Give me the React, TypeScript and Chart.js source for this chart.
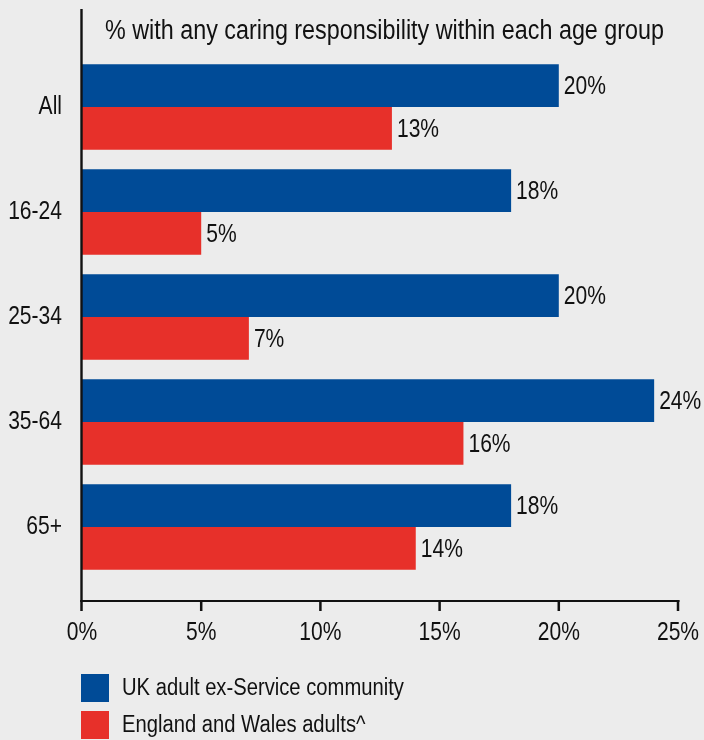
import React, { useEffect, useRef } from "react";
import { Chart, registerables } from "chart.js";

Chart.register(...registerables);

const categories = ["All", "16-24", "25-34", "35-64", "65+"];
const exServiceValues = [20, 18, 20, 24, 18];
const englandWalesValues = [13, 5, 7, 16, 14];
const xTickValues = [0, 5, 10, 15, 20, 25];
const seriesLabels = ["UK adult ex-Service community", "England and Wales adults^"];
const seriesColors = ["#004b97", "#e7302a"];
const titleText = "% with any caring responsibility within each age group";

const FONT = '"Liberation Sans", Arial, sans-serif';
const BG = "#ececec";
const SX = 0.81; // horizontal condensing of text
const INK = "#111";

function drawText(ctx: any, text: string, x: number, y: number, align: string, size: number, sx: number = SX) {
  ctx.save();
  ctx.font = `${size}px ${FONT}`;
  ctx.fillStyle = INK;
  ctx.textBaseline = "middle";
  ctx.textAlign = align;
  ctx.translate(x, y);
  ctx.scale(sx, 1);
  ctx.fillText(text, 0, 0);
  ctx.restore();
}

function textWidth(ctx: any, text: string, size: number) {
  ctx.save();
  ctx.font = `${size}px ${FONT}`;
  const w = ctx.measureText(text).width;
  ctx.restore();
  return w;
}

const decorPlugin = {
  id: "decor",
  afterDraw(chart: any) {
    const ctx = chart.ctx;
    const xs = chart.scales.x;
    const ys = chart.scales.y;
    const area = chart.chartArea;
    const x0 = xs.getPixelForValue(0);
    const axisY = 601;
    ctx.save();
    // y axis line
    ctx.strokeStyle = INK;
    ctx.lineWidth = 2.4;
    ctx.beginPath();
    ctx.moveTo(x0 - 0.5, 9);
    ctx.lineTo(x0 - 0.5, axisY + 1);
    ctx.stroke();
    // x axis line
    ctx.lineWidth = 2;
    ctx.beginPath();
    ctx.moveTo(x0 - 1.5, axisY);
    ctx.lineTo(xs.getPixelForValue(xTickValues[xTickValues.length - 1]) + 1.5, axisY);
    ctx.stroke();
    // ticks + tick labels
    ctx.lineWidth = 2.5;
    xTickValues.forEach((v) => {
      const px = xs.getPixelForValue(v) - (v === 0 ? 0.5 : 0);
      ctx.beginPath();
      ctx.moveTo(px, axisY - 1);
      ctx.lineTo(px, 611);
      ctx.stroke();
      drawText(ctx, v + "%", xs.getPixelForValue(v), 633, "center", 26);
    });
    // category labels
    categories.forEach((c, i) => {
      drawText(ctx, c, x0 - 20, ys.getPixelForValue(i), "right", 26);
    });
    // title (spans the plot width, as in the source)
    const titleLeft = area.left + 23;
    const titleRight = area.right - 14;
    const tsx = (titleRight - titleLeft) / textWidth(ctx, titleText, 27);
    drawText(ctx, titleText, titleLeft, 31.5, "left", 27, tsx);
    // data labels
    chart.data.datasets.forEach((ds: any, di: number) => {
      const meta = chart.getDatasetMeta(di);
      meta.data.forEach((el: any, i: number) => {
        drawText(ctx, ds.data[i] + "%", el.x + 5, el.y + 1.5, "left", 26);
      });
    });
    // legend
    chart.data.datasets.forEach((ds: any, di: number) => {
      const top = 674 + di * 37;
      ctx.fillStyle = ds.backgroundColor;
      ctx.fillRect(area.left - 1, top, 28, 28);
      drawText(ctx, ds.label, area.left + 40, top + 14.5, "left", 23.5, 0.86);
    });
    ctx.restore();
  },
};

export default function App() {
  const ref = useRef<HTMLCanvasElement | null>(null);
  useEffect(() => {
    if (!ref.current) return;
    const chart = new Chart(ref.current, {
      type: "bar",
      data: {
        labels: categories,
        datasets: [
          { label: seriesLabels[0], data: exServiceValues, backgroundColor: seriesColors[0] },
          { label: seriesLabels[1], data: englandWalesValues, backgroundColor: seriesColors[1] },
        ],
      },
      options: {
        indexAxis: "y",
        responsive: false,
        animation: false,
        events: [],
        layout: { padding: { top: 54.5, right: 26, bottom: 0, left: 0 } },
        datasets: { bar: { categoryPercentage: 0.816, barPercentage: 1.0 } },
        plugins: { legend: { display: false }, tooltip: { enabled: false }, title: { display: false } },
        scales: {
          x: {
            min: 0,
            max: 25,
            grid: { display: false },
            border: { display: false },
            ticks: { display: false, stepSize: 5 },
            afterFit: (s: any) => {
              s.height = 160.5;
            },
          },
          y: {
            grid: { display: false },
            border: { display: false },
            ticks: { display: false },
            afterFit: (s: any) => {
              s.width = 82;
            },
          },
        },
      },
      plugins: [decorPlugin],
    });
    return () => chart.destroy();
  }, []);
  return (
    <div style={{ position: "fixed", left: 0, top: 0, width: 704, height: 740, background: BG }}>
      <canvas ref={ref} width={704} height={740} style={{ width: 704, height: 740, display: "block" }} />
    </div>
  );
}
